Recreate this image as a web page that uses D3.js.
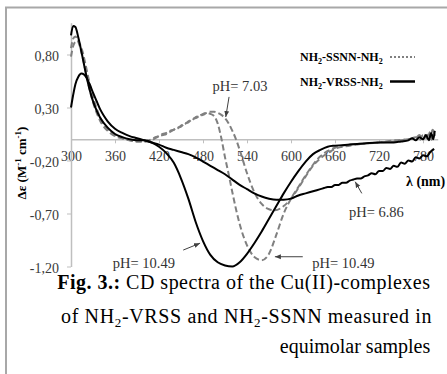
<!DOCTYPE html>
<html>
<head>
<meta charset="utf-8">
<script src="https://cdn.jsdelivr.net/npm/d3@7"></script>
<style>
  body { margin: 0; background: #fff; }
  svg { display: block; font-family: "Liberation Serif", "Times New Roman", serif; }
</style>
</head>
<body>
<div id="chart"></div>
<script>
// values: [lambda (nm), delta epsilon]
const vrss_1049 = [
  [300, 0.98], [303, 1.07], [306, 1.06], [310, 0.96], [315, 0.80], [320, 0.63], [325, 0.48],
  [330, 0.36], [335, 0.27], [340, 0.20], [350, 0.11], [360, 0.05], [370, 0.02], [380, 0.00],
  [390, -0.01], [400, -0.01], [410, -0.03], [420, -0.07], [430, -0.13], [440, -0.22], [450, -0.37],
  [460, -0.56], [470, -0.78], [480, -0.96], [490, -1.09], [500, -1.16], [510, -1.19], [520, -1.20],
  [530, -1.16], [540, -1.08], [550, -0.98], [560, -0.87], [570, -0.75], [580, -0.63], [590, -0.51],
  [600, -0.40], [610, -0.30], [620, -0.21], [630, -0.14], [640, -0.10], [650, -0.07], [660, -0.06],
  [680, -0.05], [700, -0.04], [720, -0.03], [740, -0.03], [750, -0.02], [760, -0.01], [765, 0.01],
  [770, -0.01], [775, 0.02], [780, 0.00], [784, 0.04], [788, -0.01], [791, 0.06], [794, 0.00], [796, 0.08]
];
const vrss_686 = [
  [300, 0.30], [303, 0.42], [306, 0.52], [310, 0.59], [314, 0.62], [318, 0.61], [322, 0.57],
  [326, 0.51], [330, 0.44], [335, 0.36], [340, 0.28], [345, 0.22], [350, 0.17], [360, 0.10],
  [370, 0.06], [380, 0.03], [390, 0.01], [400, -0.01], [410, -0.03], [420, -0.05], [430, -0.08],
  [440, -0.10], [450, -0.12], [460, -0.14], [470, -0.17], [480, -0.21], [490, -0.25], [500, -0.29],
  [510, -0.33], [520, -0.38], [530, -0.43], [540, -0.47], [550, -0.51], [560, -0.54], [570, -0.56],
  [580, -0.57], [590, -0.57], [600, -0.56], [610, -0.53], [620, -0.51], [630, -0.49], [640, -0.47],
  [645, -0.46], [650, -0.45], [655, -0.45], [660, -0.43], [665, -0.43], [670, -0.41], [675, -0.41],
  [680, -0.39], [685, -0.38], [690, -0.37], [695, -0.37], [700, -0.35], [705, -0.34], [710, -0.32],
  [715, -0.33], [720, -0.30], [725, -0.30], [730, -0.27], [735, -0.28], [740, -0.25], [745, -0.26],
  [750, -0.22], [755, -0.23], [760, -0.20], [765, -0.21], [770, -0.17], [775, -0.18], [780, -0.15],
  [785, -0.16], [790, -0.12], [795, -0.09]
];
const ssnn_1049 = [
  [300, 0.86], [303, 0.95], [306, 0.97], [310, 0.92], [315, 0.80], [320, 0.64], [325, 0.48],
  [330, 0.35], [335, 0.25], [340, 0.17], [350, 0.08], [360, 0.03], [370, 0.01], [380, -0.01],
  [390, -0.02], [400, -0.02], [410, -0.01], [415, 0.01], [420, 0.03], [425, 0.04], [430, 0.05],
  [435, 0.07], [440, 0.09], [445, 0.10], [450, 0.13], [455, 0.14], [460, 0.17], [465, 0.18],
  [470, 0.21], [475, 0.22], [480, 0.24], [485, 0.25], [490, 0.24], [495, 0.22], [500, 0.15],
  [505, 0.01], [510, -0.17], [515, -0.33], [520, -0.50], [525, -0.66], [530, -0.80], [540, -1.00],
  [550, -1.11], [560, -1.14], [570, -1.08], [580, -0.90], [590, -0.70], [600, -0.56], [610, -0.45],
  [620, -0.34], [630, -0.24], [640, -0.16], [650, -0.11], [660, -0.08], [680, -0.05], [700, -0.04],
  [720, -0.03], [740, -0.01], [760, 0.00], [770, 0.02], [775, -0.01], [780, 0.04], [785, 0.01],
  [788, 0.07], [791, -0.01], [794, 0.08], [796, 0.03]
];
const ssnn_703 = [
  [300, 0.78], [303, 0.88], [306, 0.92], [309, 0.93], [312, 0.90], [316, 0.82], [320, 0.70],
  [325, 0.54], [330, 0.40], [335, 0.29], [340, 0.20], [350, 0.09], [360, 0.04], [370, 0.01],
  [380, -0.01], [390, -0.02], [400, -0.02], [410, 0.00], [415, 0.02], [420, 0.03], [425, 0.05],
  [430, 0.06], [435, 0.08], [440, 0.09], [445, 0.11], [450, 0.12], [455, 0.15], [460, 0.16],
  [465, 0.19], [470, 0.20], [475, 0.22], [480, 0.23], [485, 0.25], [490, 0.26], [495, 0.26],
  [500, 0.25], [505, 0.23], [510, 0.20], [515, 0.15], [520, 0.08], [525, 0.00], [530, -0.10],
  [540, -0.32], [550, -0.50], [560, -0.61], [570, -0.66], [578, -0.67], [590, -0.63], [600, -0.56],
  [610, -0.46], [620, -0.35], [630, -0.25], [640, -0.18], [650, -0.13], [660, -0.09], [680, -0.06],
  [700, -0.04], [720, -0.03], [740, -0.02], [760, 0.00], [770, 0.01], [775, 0.04], [780, 0.00],
  [785, 0.06], [790, 0.02], [793, 0.09], [796, 0.05]
];

const xTicks = [300, 360, 420, 480, 540, 600, 660, 720, 780];
const yTicks = [-1.2, -0.7, -0.2, 0.3, 0.8];

// pH labels: arrow tip, arrow tail and text start, all in data units
const notes = [
  { text: "pH= 7.03", tip: [511, 0.21], tail: [515.5, 0.40], at: [493, 0.455] },
  { text: "pH= 6.86", tip: [687.5, -0.40], tail: [696.5, -0.51], at: [679, -0.73] },
  { text: "pH= 10.49", tip: [476, -0.98], tail: [453, -1.045], at: [357, -1.21] },
  { text: "pH= 10.49", tip: [578, -1.108], tail: [616, -1.108], at: [629, -1.215] }
];

const width = 447;
const height = 374;

const svg = d3.select("#chart")
  .append("svg")
  .attr("width", width)
  .attr("height", height);

svg.append("defs").append("marker")
  .attr("id", "head")
  .attr("viewBox", "0 0 10 10")
  .attr("refX", 10).attr("refY", 5)
  .attr("markerWidth", 6).attr("markerHeight", 6)
  .attr("orient", "auto")
  .append("path")
  .attr("d", "M0,1 L10,5 L0,9 Z")
  .attr("fill", "#404040");

// outer frame (only left and top edges are in view)
svg.append("path")
  .attr("d", "M6,374 V7.5 H447")
  .attr("fill", "none")
  .attr("stroke", "#a8a8a8")
  .attr("stroke-width", 2);

const x = d3.scaleLinear().domain([300, 800]).range([71, 437.7]);
const y = d3.scaleLinear().domain([-1.2, 1.1]).range([266.5, 22.7]);

const fmt = v => v.toFixed(2).replace(".", ",");

// X axis at 0
const gx = svg.append("g")
  .attr("transform", "translate(0," + y(0) + ")")
  .call(d3.axisBottom(x).tickValues(xTicks).tickSize(4).tickSizeOuter(0).tickPadding(8));

// Y axis
const gy = svg.append("g")
  .attr("transform", "translate(" + x(300) + ",0)")
  .call(d3.axisLeft(y).tickValues(yTicks).tickFormat(fmt).tickSize(4).tickSizeOuter(0).tickPadding(8));

[gx, gy].forEach(g => {
  g.select(".domain").attr("stroke", "#bfbfbf").attr("stroke-width", 1.5);
  g.selectAll(".tick line").attr("stroke", "#bfbfbf").attr("stroke-width", 1);
  g.selectAll(".tick text")
    .attr("fill", "#3a3a3a")
    .style("font-family", "'Liberation Serif', serif")
    .style("font-size", "14px");
});
gy.selectAll(".tick text").attr("dy", "0.45em");

const line = d3.line()
  .x(d => x(d[0]))
  .y(d => y(d[1]))
  .curve(d3.curveMonotoneX);

// Dashed: NH2-SSNN-NH2
[ssnn_703, ssnn_1049].forEach(s => {
  svg.append("path")
    .datum(s)
    .attr("d", line)
    .attr("fill", "none")
    .attr("stroke", "#808080")
    .attr("stroke-width", 2)
    .attr("stroke-dasharray", "6,3");
});

// Solid: NH2-VRSS-NH2
[vrss_686, vrss_1049].forEach(s => {
  svg.append("path")
    .datum(s)
    .attr("d", line)
    .attr("fill", "none")
    .attr("stroke", "#000")
    .attr("stroke-width", 2);
});

// pH labels with arrows
notes.forEach(n => {
  svg.append("line")
    .attr("x1", x(n.tail[0])).attr("y1", y(n.tail[1]))
    .attr("x2", x(n.tip[0])).attr("y2", y(n.tip[1]))
    .attr("stroke", "#404040")
    .attr("stroke-width", 1)
    .attr("marker-end", "url(#head)");
  svg.append("text")
    .attr("x", x(n.at[0])).attr("y", y(n.at[1]))
    .attr("fill", "#333")
    .style("font-size", "14.5px")
    .text(n.text);
});

// axis titles
svg.append("text")
  .attr("x", 406).attr("y", 186)
  .style("font-size", "14px")
  .style("font-weight", "bold")
  .text("λ (nm)");

const yt = svg.append("text")
  .attr("transform", "translate(26,163) rotate(-90)")
  .attr("text-anchor", "middle")
  .style("font-size", "13px")
  .style("font-weight", "bold");
yt.append("tspan").text("Δε (M");
yt.append("tspan").attr("dy", -5).style("font-size", "9px").text("-1");
yt.append("tspan").attr("dy", 5).text(" cm");
yt.append("tspan").attr("dy", -5).style("font-size", "9px").text("-1");
yt.append("tspan").attr("dy", 5).text(")");

// legend
function subText(sel, parts, subSize, shift) {
  parts.forEach((p, i) => {
    const t = sel.append("tspan").text(p);
    if (i % 2 === 1) t.attr("dy", shift).style("font-size", subSize);
    else if (i > 0) t.attr("dy", -shift);
  });
}

const legendItems = [
  { name: ["NH", "2", "-SSNN-NH", "2"], dash: "2,2", color: "#808080", w: 2 },
  { name: ["NH", "2", "-VRSS-NH", "2"], dash: null, color: "#000", w: 2.5 }
];
legendItems.forEach((l, i) => {
  const ly = 61 + i * 24.5;
  const t = svg.append("text")
    .attr("x", 300).attr("y", ly)
    .style("font-size", "12px")
    .style("font-weight", "bold");
  subText(t, l.name, "8px", 3);
  svg.append("line")
    .attr("x1", 390).attr("x2", 415)
    .attr("y1", ly - 4).attr("y2", ly - 4)
    .attr("stroke", l.color)
    .attr("stroke-width", l.w)
    .attr("stroke-dasharray", l.dash);
});

// caption
const c1 = svg.append("text")
  .attr("x", 57.3).attr("y", 288.5)
  .attr("textLength", 372.7)
  .attr("lengthAdjust", "spacing")
  .style("font-size", "20px");
c1.append("tspan").style("font-weight", "bold").text("Fig. 3.:");
c1.append("tspan").text(" CD spectra of the Cu(II)-complexes");

const c2 = svg.append("text")
  .attr("x", 61).attr("y", 322.7)
  .attr("textLength", 370.5)
  .attr("lengthAdjust", "spacing")
  .style("font-size", "20px");
subText(c2, ["of NH", "2", "-VRSS and NH", "2", "-SSNN measured in"], "13px", 4);

svg.append("text")
  .attr("x", 430.3).attr("y", 352.5)
  .attr("text-anchor", "end")
  .style("font-size", "20px")
  .text("equimolar samples");
</script>
</body>
</html>
